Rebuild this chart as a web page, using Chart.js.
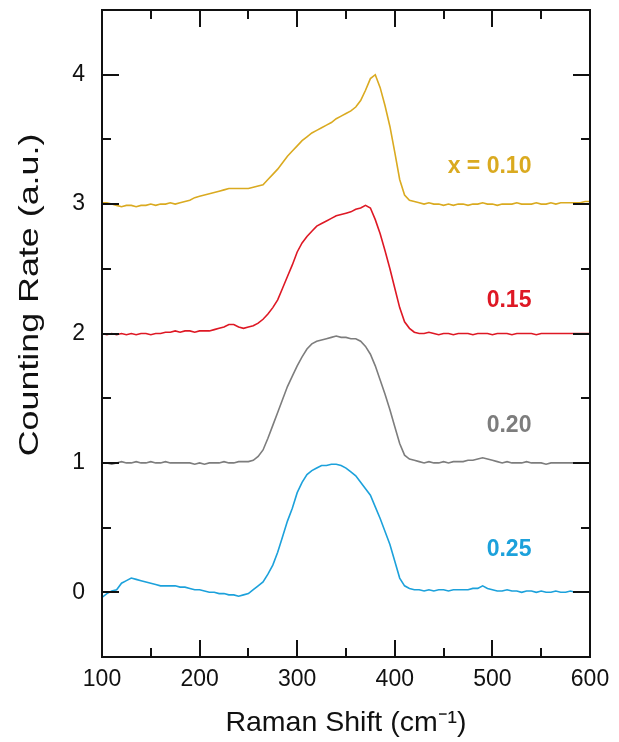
<!DOCTYPE html>
<html>
<head>
<meta charset="utf-8">
<script src="https://cdn.jsdelivr.net/npm/chart.js@4.4.1/dist/chart.umd.min.js"></script>
<style>
    html, body { margin: 0; padding: 0; background: #fff; }
    #wrap { width: 619px; height: 742px; }
</style>
</head>
<body>
<div id="wrap"><canvas id="ramanChart" width="619" height="742"></canvas></div>
<script>
// Raman shift (cm-1) sampling points
var shift = [100,105,110,115,120,125,130,135,140,145,150,155,160,165,170,175,180,185,190,195,
    200,205,210,215,220,225,230,235,240,245,250,255,260,265,270,275,280,285,290,295,
    300,305,310,315,320,325,330,335,340,345,350,355,360,365,370,375,380,385,390,395,
    400,405,410,415,420,425,430,435,440,445,450,455,460,465,470,475,480,485,490,495,
    500,505,510,515,520,525,530,535,540,545,550,555,560,565,570,575,580,585,590,595,600];

// counting rate, already shifted by the offset used in the figure
var rate010 = [3.01,3.01,3.00,2.99,2.98,2.99,2.99,2.98,2.99,2.99,3.00,2.99,3.00,3.00,3.01,3.00,3.01,3.02,3.03,3.05,
    3.06,3.07,3.08,3.09,3.10,3.11,3.12,3.12,3.12,3.12,3.12,3.13,3.14,3.15,3.19,3.23,3.27,3.32,3.37,3.41,
    3.45,3.49,3.52,3.55,3.57,3.59,3.61,3.63,3.66,3.68,3.70,3.72,3.75,3.80,3.88,3.97,4.00,3.90,3.76,3.60,
    3.40,3.19,3.07,3.03,3.02,3.01,3.00,3.01,3.00,3.00,2.99,3.00,2.99,3.00,3.00,2.99,3.00,3.00,3.01,3.00,
    3.00,2.99,3.00,3.00,3.00,3.01,3.00,3.00,3.00,3.01,3.00,3.00,3.01,3.00,3.01,3.01,3.01,3.01,3.01,3.02,3.02];
var rate015 = [2.00,1.99,2.00,1.99,2.00,1.99,2.00,1.99,2.00,2.00,1.99,2.00,2.00,2.01,2.01,2.02,2.01,2.02,2.02,2.01,
    2.02,2.02,2.02,2.03,2.04,2.05,2.07,2.07,2.05,2.04,2.05,2.06,2.08,2.11,2.15,2.20,2.26,2.35,2.44,2.53,
    2.63,2.70,2.75,2.79,2.83,2.85,2.87,2.89,2.91,2.92,2.93,2.94,2.96,2.97,2.99,2.97,2.88,2.77,2.64,2.50,
    2.35,2.20,2.09,2.04,2.01,2.00,2.00,2.01,2.00,1.99,2.00,2.00,1.99,2.00,2.00,2.00,1.99,2.00,2.00,2.00,
    1.99,2.00,2.00,2.00,1.99,2.00,2.00,2.00,2.00,1.99,2.00,2.00,2.00,2.00,2.00,2.00,2.00,2.00,2.00,2.00,2.00];
var rate020 = [1.00,1.00,0.99,1.00,1.01,1.00,1.00,1.01,1.00,1.00,1.01,1.00,1.00,1.01,1.00,1.00,1.00,1.00,1.00,0.99,
    1.00,0.99,1.00,1.00,1.00,1.01,1.00,1.00,1.01,1.01,1.01,1.02,1.05,1.10,1.19,1.29,1.39,1.49,1.59,1.67,
    1.75,1.82,1.88,1.92,1.94,1.95,1.96,1.97,1.98,1.97,1.97,1.96,1.96,1.94,1.90,1.84,1.75,1.64,1.53,1.41,
    1.28,1.15,1.06,1.03,1.02,1.01,1.00,1.01,1.00,1.00,1.01,1.00,1.01,1.01,1.01,1.02,1.02,1.03,1.04,1.03,
    1.02,1.01,1.00,1.01,1.00,1.00,1.00,1.01,1.00,1.00,1.00,0.99,1.00,1.00,1.00,1.00,1.00,1.00,1.00,1.00,1.00];
var rate025 = [-0.04,-0.01,0.01,0.02,0.07,0.09,0.11,0.10,0.09,0.08,0.07,0.06,0.05,0.05,0.05,0.05,0.04,0.04,0.03,0.02,
    0.02,0.01,0.00,0.00,-0.01,-0.01,-0.02,-0.02,-0.03,-0.02,-0.01,0.02,0.05,0.08,0.14,0.21,0.31,0.43,0.55,0.65,
    0.77,0.85,0.91,0.94,0.96,0.98,0.98,0.99,0.99,0.98,0.96,0.93,0.90,0.85,0.80,0.75,0.66,0.57,0.47,0.37,
    0.24,0.11,0.05,0.03,0.02,0.02,0.01,0.02,0.01,0.02,0.02,0.01,0.02,0.02,0.02,0.02,0.03,0.03,0.05,0.03,
    0.02,0.01,0.01,0.02,0.01,0.01,0.00,0.01,0.01,0.00,0.01,0.00,0.00,0.01,0.00,0.00,0.01,0.00,0.00,0.00,0.00];

var seriesNames = ['x = 0.10', '0.15', '0.20', '0.25'];
var seriesColors = ['rgb(218, 170, 32)', 'rgb(222, 24, 36)', 'rgb(125, 125, 125)', 'rgb(28, 161, 219)'];
// where the composition labels sit, in data units
var labelX = [540, 540, 540, 540];
var labelY = [3.29, 2.25, 1.29, 0.33];

var xTicksMajor = [100, 200, 300, 400, 500, 600];
var xTicksMinor = [150, 250, 350, 450, 550];
var yTicksMajor = [0, 1, 2, 3, 4];
var yTicksMinor = [0.5, 1.5, 2.5, 3.5];

var FONT = '"Liberation Sans", Arial, sans-serif';

function toPoints(ys) {
    var pts = [];
    for (var i = 0; i < shift.length; i++) {
        pts.push({x: shift[i], y: ys[i]});
    }
    return pts;
}

var allRates = [rate010, rate015, rate020, rate025];
var datasets = [];
for (var s = 0; s < allRates.length; s++) {
    datasets.push({
        label: seriesNames[s],
        data: toPoints(allRates[s]),
        borderColor: seriesColors[s],
        borderWidth: 1.6,
        pointRadius: 0,
        tension: 0,
        fill: false
    });
}

// box + inward ticks on all sides, composition labels, y title
var frameAndLabels = {
    id: 'frameAndLabels',
    afterDraw: function (chart) {
        var ctx = chart.ctx;
        var a = chart.chartArea;
        var xs = chart.scales.x;
        var ys = chart.scales.y;
        ctx.save();
        ctx.strokeStyle = '#111';
        ctx.lineWidth = 2;
        ctx.strokeRect(a.left, a.top, a.right - a.left, a.bottom - a.top);

        ctx.beginPath();
        function xt(list, len) {
            list.forEach(function (v) {
                var px = Math.round(xs.getPixelForValue(v));
                ctx.moveTo(px, a.bottom); ctx.lineTo(px, a.bottom - len);
                ctx.moveTo(px, a.top); ctx.lineTo(px, a.top + len);
            });
        }
        function yt(list, len) {
            list.forEach(function (v) {
                var py = Math.round(ys.getPixelForValue(v));
                ctx.moveTo(a.left, py); ctx.lineTo(a.left + len, py);
                ctx.moveTo(a.right, py); ctx.lineTo(a.right - len, py);
            });
        }
        xt(xTicksMajor, 17);
        xt(xTicksMinor, 9);
        yt(yTicksMajor, 17);
        yt(yTicksMinor, 9);
        ctx.stroke();

        ctx.font = 'bold 23px ' + FONT;
        ctx.textAlign = 'right';
        ctx.textBaseline = 'middle';
        for (var i = 0; i < seriesNames.length; i++) {
            ctx.fillStyle = seriesColors[i];
            ctx.fillText(seriesNames[i], xs.getPixelForValue(labelX[i]), ys.getPixelForValue(labelY[i]));
        }

        // y axis title, a bit stretched along its length like the original figure
        ctx.translate(30, 295);
        ctx.rotate(-Math.PI / 2);
        ctx.scale(1.28, 1);
        ctx.font = '28px ' + FONT;
        ctx.fillStyle = '#111';
        ctx.textAlign = 'center';
        ctx.fillText('Counting Rate (a.u.)', 0, 0);
        ctx.restore();
    }
};

var ctx = document.getElementById('ramanChart').getContext('2d');
var chart = new Chart(ctx, {
    type: 'line',
    data: { datasets: datasets },
    options: {
        responsive: false,
        animation: false,
        layout: { padding: { top: 10, right: 29, left: 0, bottom: 0 } },
        plugins: {
            legend: { display: false },
            tooltip: { enabled: false }
        },
        scales: {
            x: {
                type: 'linear',
                min: 100,
                max: 600,
                afterBuildTicks: function (scale) {
                    scale.ticks = xTicksMajor.map(function (v) { return {value: v}; });
                },
                afterFit: function (scale) {
                    scale.height = 85;
                    scale.paddingLeft = 0;
                    scale.paddingRight = 0;
                },
                grid: { display: false, drawTicks: false, tickLength: 0 },
                border: { display: false },
                ticks: {
                    color: '#111',
                    padding: 9,
                    maxRotation: 0,
                    font: { family: FONT, size: 23 }
                },
                title: {
                    display: true,
                    text: 'Raman Shift (cm⁻¹)',
                    color: '#111',
                    padding: { top: 0, bottom: 5 },
                    font: { family: FONT, size: 28.5, lineHeight: 1 }
                }
            },
            y: {
                type: 'linear',
                min: -0.5,
                max: 4.5,
                afterBuildTicks: function (scale) {
                    scale.ticks = yTicksMajor.map(function (v) { return {value: v}; });
                },
                afterFit: function (scale) {
                    scale.width = 102;
                    scale.paddingTop = 0;
                    scale.paddingBottom = 0;
                },
                grid: { display: false, drawTicks: false, tickLength: 0 },
                border: { display: false },
                ticks: {
                    color: '#111',
                    padding: 17,
                    font: { family: FONT, size: 23 }
                }
            }
        }
    },
    plugins: [frameAndLabels]
});
</script>
</body>
</html>
